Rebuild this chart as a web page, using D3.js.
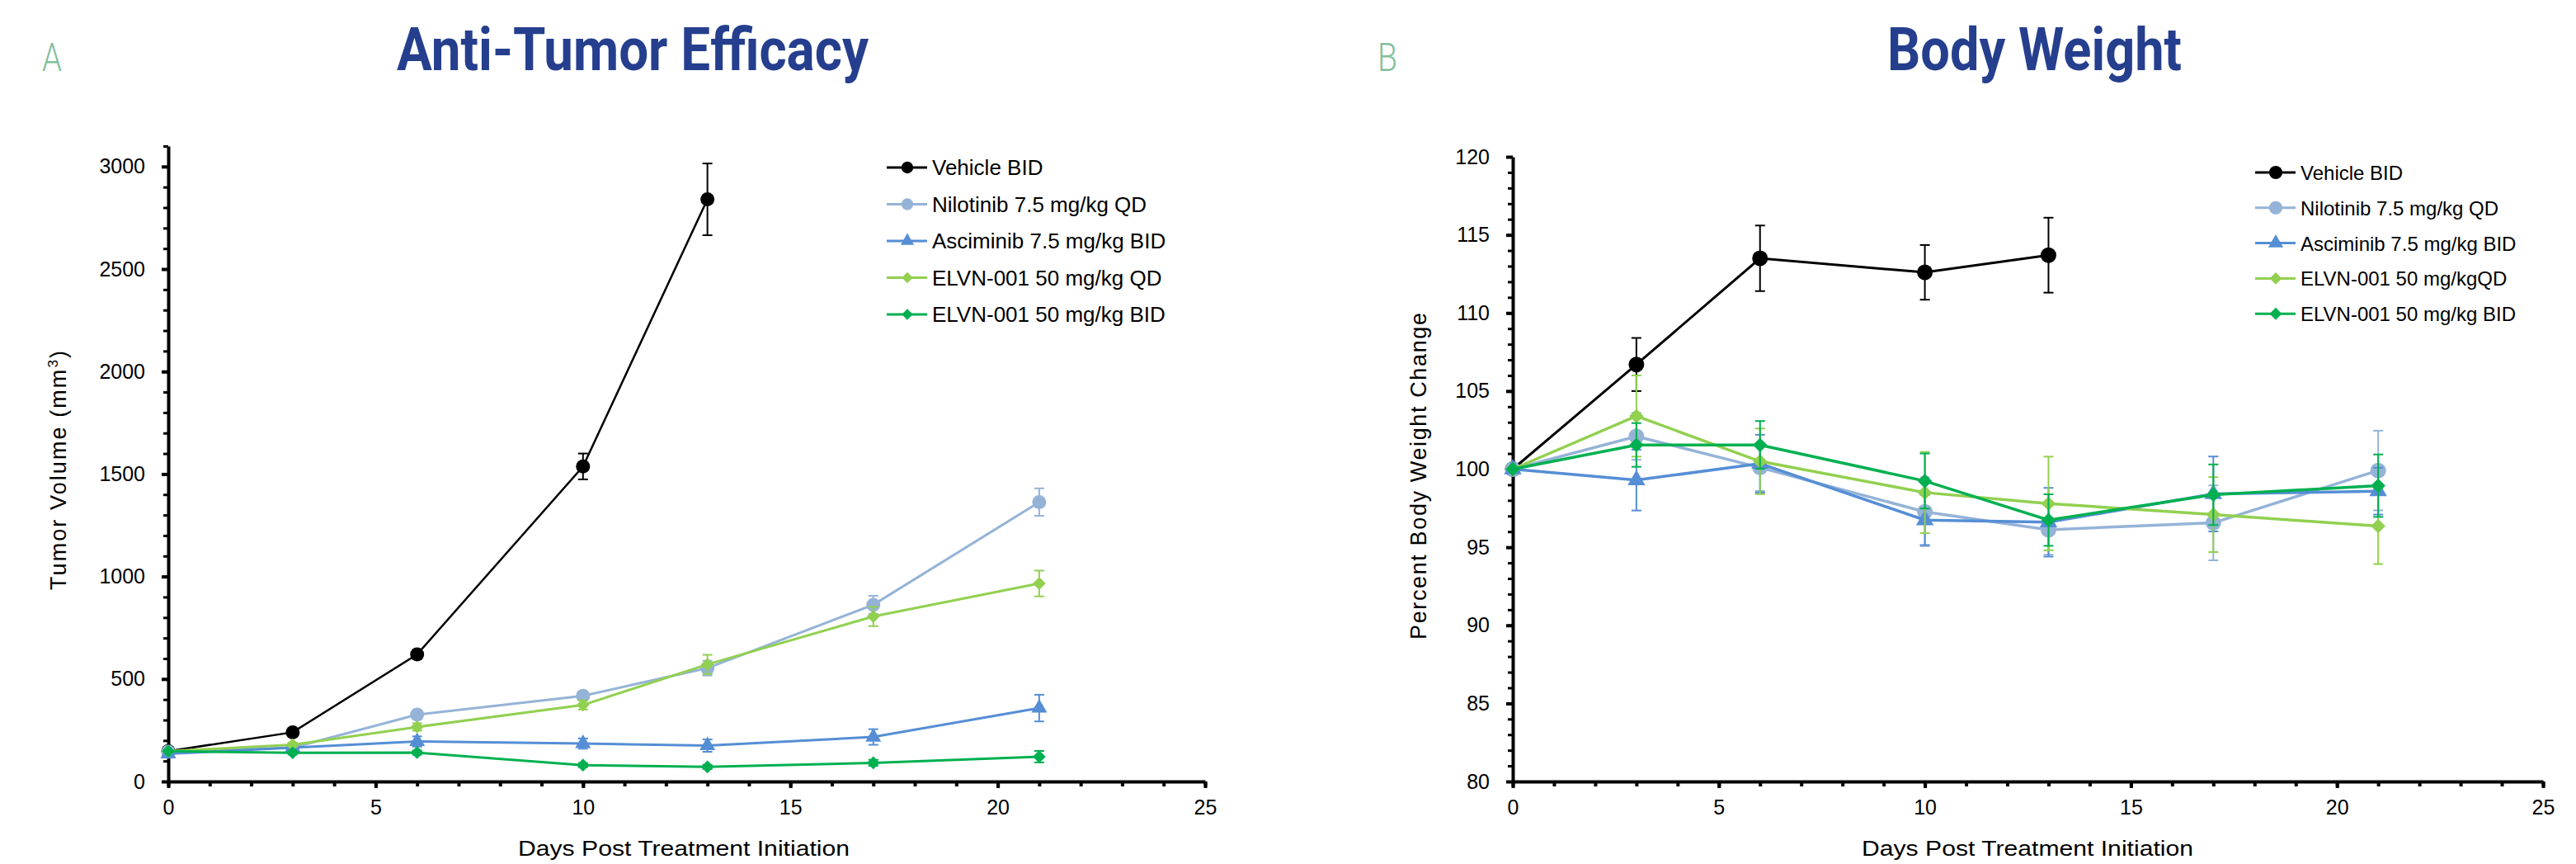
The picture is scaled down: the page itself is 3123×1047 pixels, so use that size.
<!DOCTYPE html>
<html>
<head>
<meta charset="utf-8">
<script src="https://cdn.jsdelivr.net/npm/d3@7"></script>
<style>
  body { margin: 0; background: #fff; }
  svg { display: block; }
  text { font-family: "Liberation Sans", Arial, sans-serif; fill: #000; }
</style>
</head>
<body>
<script>
// data
var days = [0, 3, 6, 10, 13, 17, 21];
var vehicleDays = [0, 3, 6, 10, 13];

var tumorNames = ['Vehicle BID', 'Nilotinib 7.5 mg/kg QD', 'Asciminib 7.5 mg/kg BID', 'ELVN-001 50 mg/kg QD', 'ELVN-001 50 mg/kg BID'];
var weightNames = ['Vehicle BID', 'Nilotinib 7.5 mg/kg QD', 'Asciminib 7.5 mg/kg BID', 'ELVN-001 50 mg/kgQD', 'ELVN-001 50 mg/kg BID'];

var tumorVehicle = [148, 240, 620, 1537, 2840];
var tumorVehicleErr = [8, 15, 22, 63, 175];
var tumorNilotinib = [145, 165, 326, 418, 553, 862, 1363];
var tumorNilotinibErr = [5, 10, 22, 22, 36, 44, 67];
var tumorAsciminib = [135, 165, 195, 185, 175, 217, 358];
var tumorAsciminibErr = [5, 10, 25, 25, 30, 38, 65];
var tumorElvnQD = [148, 179, 266, 373, 571, 805, 966];
var tumorElvnQDErr = [5, 10, 18, 22, 47, 47, 63];
var tumorElvnBID = [148, 140, 141, 80, 71, 91, 121];
var tumorElvnBIDErr = [5, 8, 10, 10, 10, 15, 28];

var weightVehicle = [100, 106.7, 113.5, 112.6, 113.7];
var weightVehicleErr = [0, 1.7, 2.1, 1.75, 2.4];
var weightNilotinib = [100, 102.1, 100.1, 97.27, 96.12, 96.56, 99.91];
var weightNilotinibErr = [0, 1.5, 1.5, 2.2, 1.6, 2.4, 2.55];
var weightAsciminib = [100, 99.3, 100.35, 96.74, 96.6, 98.41, 98.59];
var weightAsciminibErr = [0, 1.95, 1.85, 1.6, 2.2, 2.4, 1.5];
var weightElvnQD = [100, 103.4, 100.5, 98.5, 97.8, 97.09, 96.35];
var weightElvnQDErr = [0, 2.6, 2.1, 2.6, 3.0, 2.4, 2.43];
var weightElvnBID = [100, 101.55, 101.55, 99.24, 96.74, 98.36, 98.94];
var weightElvnBIDErr = [0, 1.4, 1.53, 1.76, 1.65, 1.94, 2.0];

var tumorTicks = [0, 500, 1000, 1500, 2000, 2500, 3000];
var weightTicks = [80, 85, 90, 95, 100, 105, 110, 115, 120];
var dayTicks = [0, 5, 10, 15, 20, 25];

var colors = ['#000000', '#95b3d7', '#558ed5', '#92d050', '#00b050'];
var shapes = ['circle', 'circle', 'triangle', 'diamond', 'diamond'];

var svgWidth = 3123;
var svgHeight = 1047;

var svg = d3.select('body')
    .append('svg')
    .attr('width', svgWidth)
    .attr('height', svgHeight);

function zip(xs, ys, es) {
    return xs.map((d, i) => ({day: d, v: ys[i], e: es[i]}));
}

function drawPanel(p) {
    var x = d3.scaleLinear().domain([0, 25]).range([p.left, p.right]);
    var y = d3.scaleLinear().domain(p.yDomain).range([p.bottom, p.top]);

    // panel letter + title
    svg.append('text')
        .attr('x', p.letterX).attr('y', 86)
        .attr('font-size', 48).attr('font-weight', 300)
        .attr('textLength', 24).attr('lengthAdjust', 'spacingAndGlyphs')
        .style('font-family', 'Roboto, sans-serif')
        .style('fill', '#84bf9c')
        .text(p.letter);
    svg.append('text')
        .attr('x', p.titleX).attr('y', 85)
        .attr('font-size', 72).attr('font-weight', 'bold')
        .attr('textLength', p.titleW).attr('lengthAdjust', 'spacingAndGlyphs')
        .style('font-family', 'Roboto, sans-serif')
        .style('fill', '#253f8e')
        .text(p.title);

    // minor ticks
    svg.append('g')
        .attr('transform', `translate(0,${p.bottom})`)
        .call(d3.axisBottom(x).tickValues(d3.range(0, 26)).tickSize(6).tickFormat(''))
        .call(g => g.select('.domain').remove())
        .call(g => g.selectAll('line').attr('stroke-width', 4));
    svg.append('g')
        .attr('transform', `translate(${p.left},0)`)
        .call(d3.axisLeft(y).tickValues(p.minor).tickSize(6).tickFormat(''))
        .call(g => g.select('.domain').remove())
        .call(g => g.selectAll('line').attr('stroke-width', 3));

    // major axes
    var xAxis = svg.append('g')
        .attr('transform', `translate(0,${p.bottom})`)
        .call(d3.axisBottom(x).tickValues(dayTicks).tickSize(8).tickSizeOuter(0).tickPadding(14));
    var yAxis = svg.append('g')
        .attr('transform', `translate(${p.left},0)`)
        .call(d3.axisLeft(y).tickValues(p.yTicks).tickFormat(d3.format('d')).tickSize(8).tickSizeOuter(0).tickPadding(20));
    [xAxis, yAxis].forEach(a => {
        a.select('.domain').attr('stroke-width', 4);
        a.selectAll('line').attr('stroke-width', 4);
        a.selectAll('text').attr('font-size', 25).style('font-family', '"Liberation Sans", Arial, sans-serif');
    });

    // axis titles
    svg.append('text')
        .attr('x', p.xTitleX).attr('y', 1037)
        .attr('text-anchor', 'middle')
        .attr('font-size', 26)
        .attr('textLength', 402).attr('lengthAdjust', 'spacingAndGlyphs')
        .text('Days Post Treatment Initiation');
    svg.append('text')
        .attr('transform', `translate(${p.yTitleX},${p.yTitleY}) rotate(-90)`)
        .attr('text-anchor', 'middle')
        .attr('font-size', 27)
        .attr('textLength', p.yTitleW).attr('lengthAdjust', 'spacing')
        .html(p.yTitle);

    // series
    p.series.forEach((s, i) => {
        var g = svg.append('g');
        var line = d3.line().x(d => x(d.day)).y(d => y(d.v));
        g.append('path')
            .datum(s)
            .attr('d', line)
            .attr('fill', 'none')
            .attr('stroke', colors[i])
            .attr('stroke-width', i === 0 ? p.lw0 : p.lw);

        var eb = g.selectAll('.eb').data(s.filter(d => d.e > 0)).enter().append('g');
        eb.append('line')
            .attr('x1', d => x(d.day)).attr('x2', d => x(d.day))
            .attr('y1', d => y(d.v - d.e)).attr('y2', d => y(d.v + d.e))
            .attr('stroke', colors[i]).attr('stroke-width', 2);
        [-1, 1].forEach(k => {
            eb.append('line')
                .attr('x1', d => x(d.day) - 6).attr('x2', d => x(d.day) + 6)
                .attr('y1', d => y(d.v + k * d.e)).attr('y2', d => y(d.v + k * d.e))
                .attr('stroke', colors[i]).attr('stroke-width', 2);
        });

        g.selectAll('.mk').data(s).enter().append('path')
            .attr('transform', d => `translate(${x(d.day)},${y(d.v)})` + (shapes[i] === 'diamond' ? ' rotate(45)' : ''))
            .attr('d', marker(shapes[i], p.ms))
            .attr('fill', colors[i]);
    });

    // legend
    p.names.forEach((n, i) => {
        var ly = p.legY + i * p.legStep;
        svg.append('line')
            .attr('x1', p.legX).attr('x2', p.legX + 49)
            .attr('y1', ly).attr('y2', ly)
            .attr('stroke', colors[i]).attr('stroke-width', 3);
        svg.append('path')
            .attr('transform', `translate(${p.legX + 25},${ly})` + (shapes[i] === 'diamond' ? ' rotate(45)' : ''))
            .attr('d', marker(shapes[i], p.ms * 0.85))
            .attr('fill', colors[i]);
        svg.append('text')
            .attr('x', p.legX + 55).attr('y', ly + 9)
            .attr('font-size', p.legFont)
            .text(n);
    });
}

function marker(shape, r) {
    if (shape === 'circle') return d3.symbol(d3.symbolCircle, Math.PI * r * r)();
    if (shape === 'triangle') return d3.symbol(d3.symbolTriangle, 2.2 * r * r)();
    return d3.symbol(d3.symbolSquare, 1.7 * r * r)();
}

drawPanel({
    letter: 'A', letterX: 51, title: 'Anti-Tumor Efficacy', titleX: 481, titleW: 572,
    left: 204, right: 1461, top: 177, bottom: 947, yDomain: [0, 3100],
    yTicks: tumorTicks, minor: d3.range(0, 3101, 100),
    xTitleX: 829, yTitleX: 80, yTitleY: 570, yTitleW: 290,
    yTitle: 'Tumor Volume (mm<tspan dy="-10" font-size="17">3</tspan><tspan dy="10">)</tspan>',
    lw0: 2.5, lw: 3, ms: 8.5,
    names: tumorNames, legX: 1075, legY: 203, legStep: 44.5, legFont: 26,
    series: [
        zip(vehicleDays, tumorVehicle, tumorVehicleErr),
        zip(days, tumorNilotinib, tumorNilotinibErr),
        zip(days, tumorAsciminib, tumorAsciminibErr),
        zip(days, tumorElvnQD, tumorElvnQDErr),
        zip(days, tumorElvnBID, tumorElvnBIDErr)
    ]
});

drawPanel({
    letter: 'B', letterX: 1670, title: 'Body Weight', titleX: 2288, titleW: 357,
    left: 1834, right: 3083, top: 190, bottom: 947, yDomain: [80, 120],
    yTicks: weightTicks, minor: d3.range(80, 121, 1),
    xTitleX: 2458, yTitleX: 1729, yTitleY: 577, yTitleW: 396,
    yTitle: 'Percent Body Weight Change',
    lw0: 3, lw: 3.5, ms: 9.5,
    names: weightNames, legX: 2734, legY: 209, legStep: 42.8, legFont: 24,
    series: [
        zip(vehicleDays, weightVehicle, weightVehicleErr),
        zip(days, weightNilotinib, weightNilotinibErr),
        zip(days, weightAsciminib, weightAsciminibErr),
        zip(days, weightElvnQD, weightElvnQDErr),
        zip(days, weightElvnBID, weightElvnBIDErr)
    ]
});
</script>
</body>
</html>
